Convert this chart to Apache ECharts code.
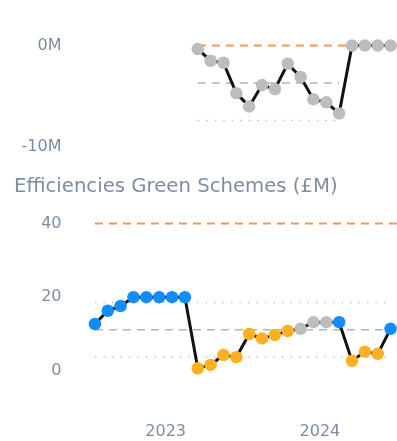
<!DOCTYPE html>
<html>
<head>
<meta charset="utf-8">
<script src="https://cdn.jsdelivr.net/npm/echarts@6/dist/echarts.min.js"></script>
<style>
  html, body { margin: 0; padding: 0; background: #fff; }
  #chart { width: 397px; height: 441px; }
</style>
</head>
<body>
<div id="chart"></div>
<script>
// Monthly periods shared by both panels
const months = ['2022-07','2022-08','2022-09','2022-10','2022-11','2022-12',
                '2023-01','2023-02','2023-03','2023-04','2023-05','2023-06',
                '2023-07','2023-08','2023-09','2023-10','2023-11','2023-12',
                '2024-01','2024-02','2024-03','2024-04','2024-05','2024-06'];
const yearLabels = ['2023', '2024'];

// Upper panel (£M), reported from 2023-03 onwards
const topStart = 8;
const topValues = [-0.35, -1.5, -1.7, -4.7, -6.0, -3.9, -4.3, -1.8, -3.1, -5.3, -5.6, -6.7, 0, 0, 0, 0];
const topTarget = 0;
const topMean = -3.7;
const topLower = -7.4;
const topLimitEnd = 19;          // control limits span 2023-03 .. 2024-02
const topTicks = [-10, 0];

// Efficiencies Green Schemes (£M)
const greenValues = [12.7, 16.3, 17.6, 20, 20, 20, 20, 20, 0.7, 1.6, 4.3, 3.7,
                     10.0, 8.8, 9.7, 10.8, 11.4, 13.2, 13.2, 13.2, 2.7, 5.2, 4.6, 11.4];
const greenStatus = ['up','up','up','up','up','up','up','up','down','down','down','down',
                     'down','down','down','down','flat','flat','flat','up','down','down','down','up'];
const greenTarget = 40;
const greenMean = 11.15;
const greenUpper = 18.55;
const greenLower = 3.75;
const greenTicks = [0, 20, 40];

const statusColor = { up: '#118DFF', down: '#FDB022', flat: '#BDBDBD' };
const textColor = '#7d8ea2';
const font = 'DejaVu Sans';

// month string -> decimal year at the middle of the month
const toX = m => {
  const [y, mo] = m.split('-').map(Number);
  return y + (mo - 0.5) / 12;
};
const xs = months.map(toX);
const xMin = xs[0] - 0.5 / 12;
const xMax = xs[xs.length - 1] + 0.5 / 12;

const refLine = (xi, yi, from, to, value, style) => ({
  type: 'line', xAxisIndex: xi, yAxisIndex: yi, silent: true, showSymbol: false,
  symbol: 'none', clip: false, z: 1,
  data: [[from, value], [to, value]],
  lineStyle: style
});
const orangeDash = { color: '#F6955B', width: 2, type: [8, 6] };
const greyDash = { color: '#B3B3B3', width: 1.5, type: [8, 6] };
const greyDot = { color: '#C4C4C4', width: 1.5, type: [1.5, 7] };

const xAxisBase = {
  type: 'value', min: xMin, max: xMax, interval: 0.5,
  axisLine: { show: false }, axisTick: { show: false }, splitLine: { show: false }
};

const option = {
  animation: false,
  backgroundColor: '#fff',
  title: {
    text: 'Efficiencies Green Schemes (£M)',
    left: 9, top: 172,
    textStyle: { color: textColor, fontFamily: font, fontSize: 19.7, fontWeight: 'normal' }
  },
  grid: [
    { left: 88.5, right: 0, top: 45.5, height: 101.5 },
    { left: 88.5, right: 0, top: 223.5, height: 147.3 }
  ],
  xAxis: [
    Object.assign({}, xAxisBase, { gridIndex: 0, axisLabel: { show: false } }),
    Object.assign({}, xAxisBase, {
      gridIndex: 1,
      axisLabel: {
        margin: 53, color: textColor, fontFamily: font, fontSize: 16,
        showMinLabel: false, showMaxLabel: false,
        formatter: v => {
          const s = String(Math.round(v));
          return Math.abs(v - Math.round(v)) < 1e-6 && yearLabels.includes(s) ? s : '';
        }
      }
    })
  ],
  yAxis: [
    {
      type: 'value', gridIndex: 0, min: topTicks[0], max: topTicks[topTicks.length - 1],
      interval: topTicks[1] - topTicks[0],
      axisLine: { show: false }, axisTick: { show: false }, splitLine: { show: false },
      axisLabel: { margin: 27, color: textColor, fontFamily: font, fontSize: 16,
                   padding: [3, 0, 0, 0], formatter: v => v + 'M' }
    },
    {
      type: 'value', gridIndex: 1, min: greenTicks[0], max: greenTicks[greenTicks.length - 1],
      interval: greenTicks[1] - greenTicks[0],
      axisLine: { show: false }, axisTick: { show: false }, splitLine: { show: false },
      axisLabel: { margin: 27, color: textColor, fontFamily: font, fontSize: 16 }
    }
  ],
  series: [
    // upper panel reference lines
    refLine(0, 0, xs[topStart], xs[topLimitEnd], topLower, greyDot),
    refLine(0, 0, xs[topStart], xs[topLimitEnd], topMean, greyDash),
    refLine(0, 0, xs[topStart], xMax, topTarget, orangeDash),
    {
      type: 'line', xAxisIndex: 0, yAxisIndex: 0, clip: false, z: 3,
      data: topValues.map((v, i) => [xs[topStart + i], v]),
      symbol: 'circle', symbolSize: 12.5, showAllSymbol: true,
      lineStyle: { color: '#111', width: 3 },
      itemStyle: { color: '#BDBDBD' }
    },
    // lower panel reference lines
    refLine(1, 1, xs[0], xs[xs.length - 1], greenLower, greyDot),
    refLine(1, 1, xs[0], xs[xs.length - 1], greenUpper, greyDot),
    refLine(1, 1, xs[0], xs[xs.length - 1], greenMean, greyDash),
    refLine(1, 1, xs[0], xMax, greenTarget, orangeDash),
    {
      type: 'line', xAxisIndex: 1, yAxisIndex: 1, clip: false, z: 3,
      data: greenValues.map((v, i) => ({
        value: [xs[i], v],
        itemStyle: { color: statusColor[greenStatus[i]] }
      })),
      symbol: 'circle', symbolSize: 12.5, showAllSymbol: true,
      lineStyle: { color: '#111', width: 3 }
    }
  ]
};

echarts.init(document.getElementById('chart'), null, { renderer: 'canvas' }).setOption(option);
</script>
</body>
</html>
